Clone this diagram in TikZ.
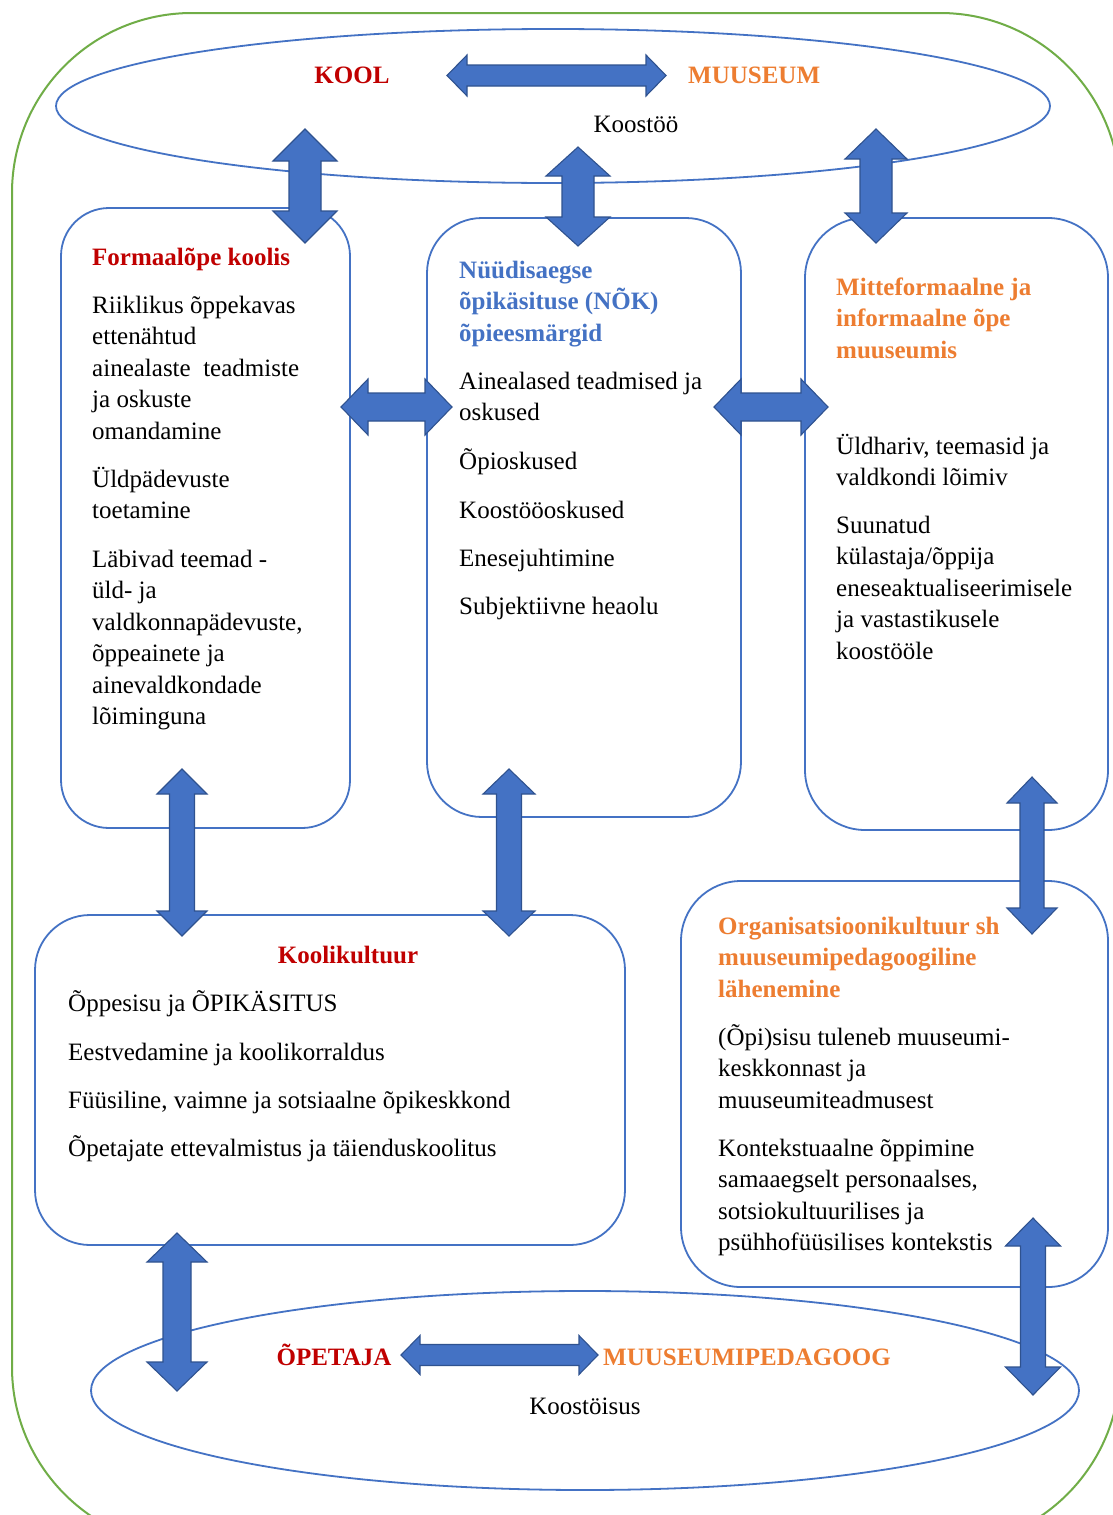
\documentclass[tikz,border=0pt]{standalone}
\usepackage{fontspec}
\setmainfont{Liberation Serif}
\usetikzlibrary{shapes.geometric}
\definecolor{boxblue}{HTML}{4472C4}
\definecolor{arrowedge}{HTML}{2F528F}
\definecolor{outergreen}{HTML}{70AD47}
\definecolor{titlered}{HTML}{C00000}
\definecolor{titleorange}{HTML}{ED7D31}
\newcommand\linestack[1]{\begin{tabular}[t]{@{}l@{}}#1\end{tabular}}
% vertical double block arrow: x, top tip, bottom tip, head half width, shaft half width, head length
\newcommand\vblockarrow[6]{%
  \draw[blockarrow] (#1,#2) -- (#1+#4,#2+#6) -- (#1+#5,#2+#6) -- (#1+#5,#3-#6) -- (#1+#4,#3-#6) -- (#1,#3)
    -- (#1-#4,#3-#6) -- (#1-#5,#3-#6) -- (#1-#5,#2+#6) -- (#1-#4,#2+#6) -- cycle;}
% horizontal double block arrow: left tip, right tip, y, head half height, shaft half height, head length
\newcommand\hblockarrow[6]{%
  \draw[blockarrow] (#1,#3) -- (#1+#6,#3-#4) -- (#1+#6,#3-#5) -- (#2-#6,#3-#5) -- (#2-#6,#3-#4) -- (#2,#3)
    -- (#2-#6,#3+#4) -- (#2-#6,#3+#5) -- (#1+#6,#3+#5) -- (#1+#6,#3+#4) -- cycle;}
\tikzset{
  blockarrow/.style={fill=boxblue, draw=arrowedge, line width=1.1pt, line join=miter},
  bluebox/.style={draw=boxblue, line width=1.8pt, inner sep=0pt, outer sep=0pt},
  oval/.style={ellipse, draw=boxblue, line width=1.8pt, inner sep=0pt, outer sep=0pt},
  bodytext/.style={anchor=base west, inner sep=0pt, font=\fontsize{25}{31.5}\selectfont},
  redtitle/.style={bodytext, font=\fontsize{25}{31.5}\selectfont\bfseries, text=titlered},
  orangetitle/.style={bodytext, font=\fontsize{25}{31.5}\selectfont\bfseries, text=titleorange},
  bluetitle/.style={bodytext, font=\fontsize{25}{31.5}\selectfont\bfseries, text=boxblue},
}
\begin{document}
\begin{tikzpicture}[x=1pt,y=-1pt]
\useasboundingbox (0,0) rectangle (1113,1515);
\fill[white] (0,0) rectangle (1113,1515);
\begin{scope}
  \clip (0,0) rectangle (1113,1515);
  \node[draw=outergreen, line width=2pt, rounded corners=180pt, minimum width=1108pt, minimum height=1534pt, inner sep=0pt] (outer) at (566,780) {};
\end{scope}

% ellipses
\node[oval, minimum width=994pt, minimum height=154pt] (topell) at (553,106) {};
\node[oval, minimum width=988pt, minimum height=199pt] (botell) at (585,1390.5) {};

% boxes
\node[bluebox, rounded corners=48pt, minimum width=289pt, minimum height=620pt] (b1) at (205.5,518) {};
\node[bluebox, rounded corners=55pt, minimum width=314pt, minimum height=599pt] (b2) at (584,517.5) {};
\node[bluebox, rounded corners=60pt, minimum width=303pt, minimum height=612pt] (b3) at (956.5,524) {};
\node[bluebox, rounded corners=55pt, minimum width=590pt, minimum height=330pt] (b4) at (330,1080) {};
\node[bluebox, rounded corners=60pt, minimum width=427pt, minimum height=406pt] (b5) at (894.5,1084) {};

% top ellipse labels
\node[redtitle, anchor=base] (kool) at (352,83) {KOOL};
\node[orangetitle] (muuseum) at (688,83) {MUUSEUM};
\node[bodytext, anchor=base] (koostoo) at (636,132) {Koostöö};

% bottom ellipse labels
\node[redtitle, anchor=base] (opetaja) at (334,1365) {ÕPETAJA};
\node[orangetitle] (mped) at (603,1365) {MUUSEUMIPEDAGOOG};
\node[bodytext, anchor=base] (koostoisus) at (585,1414) {Koostöisus};

% box 1
\node[redtitle] (t1) at (92,265) {Formaalõpe koolis};
\node[bodytext] (p11) at (92,313) {\linestack{Riiklikus õppekavas\\ettenähtud\\ainealaste\ \ teadmiste\\ja oskuste\\omandamine}};
\node[bodytext] (p12) at (92,487) {\linestack{Üldpädevuste\\toetamine}};
\node[bodytext] (p13) at (92,567) {\linestack{Läbivad teemad -\\üld- ja\\valdkonnapädevuste,\\õppeainete ja\\ainevaldkondade\\lõiminguna}};

% box 2
\node[bluetitle] (t2) at (459,278) {\linestack{Nüüdisaegse\\õpikäsituse (NÕK)\\õpieesmärgid}};
\node[bodytext] (p21) at (459,389) {\linestack{Ainealased teadmised ja\\oskused}};
\node[bodytext] (p22) at (459,469) {Õpioskused};
\node[bodytext] (p23) at (459,518) {Koostööoskused};
\node[bodytext] (p24) at (459,566) {Enesejuhtimine};
\node[bodytext] (p25) at (459,614) {Subjektiivne heaolu};

% box 3
\node[orangetitle] (t3) at (836,295) {\linestack{Mitteformaalne ja\\informaalne õpe\\muuseumis}};
\node[bodytext] (p31) at (836,454) {\linestack{Üldhariv, teemasid ja\\valdkondi lõimiv}};
\node[bodytext] (p32) at (836,533) {\linestack{Suunatud\\külastaja/õppija\\eneseaktualiseerimisele\\ja vastastikusele\\koostööle}};

% box 4
\node[redtitle, anchor=base] (t4) at (348,963) {Koolikultuur};
\node[bodytext] (p41) at (68,1011) {Õppesisu ja ÕPIKÄSITUS};
\node[bodytext] (p42) at (68,1060) {Eestvedamine ja koolikorraldus};
\node[bodytext] (p43) at (68,1108) {Füüsiline, vaimne ja sotsiaalne õpikeskkond};
\node[bodytext] (p44) at (68,1156) {Õpetajate ettevalmistus ja täienduskoolitus};

% box 5
\node[orangetitle] (t5) at (718,934) {\linestack{Organisatsioonikultuur sh\\muuseumipedagoogiline\\lähenemine}};
\node[bodytext] (p51) at (718,1045) {\linestack{(Õpi)sisu tuleneb muuseumi-\\keskkonnast ja\\muuseumiteadmusest}};
\node[bodytext] (p52) at (718,1156) {\linestack{Kontekstuaalne õppimine\\samaaegselt personaalses,\\sotsiokultuurilises ja\\psühhofüüsilises kontekstis}};

% block arrows
\hblockarrow{447}{666}{75.5}{20.5}{10.5}{20}
\hblockarrow{341}{452}{407}{28}{14}{27}
\hblockarrow{714}{828}{407}{28}{14}{27}
\hblockarrow{401}{598}{1355}{19.5}{10.5}{19}
\vblockarrow{305}{129}{243}{32}{16}{32}
\vblockarrow{578}{147}{246}{32}{16}{29}
\vblockarrow{876}{129}{243}{31}{16}{30}
\vblockarrow{182}{769}{936}{25}{12.5}{25}
\vblockarrow{509}{769}{936}{26}{12.5}{25}
\vblockarrow{1032}{777}{934}{25}{12}{26}
\vblockarrow{177}{1233}{1391}{30}{14}{29}
\vblockarrow{1033}{1218}{1395}{27.5}{12.5}{28}
\end{tikzpicture}
\end{document}
